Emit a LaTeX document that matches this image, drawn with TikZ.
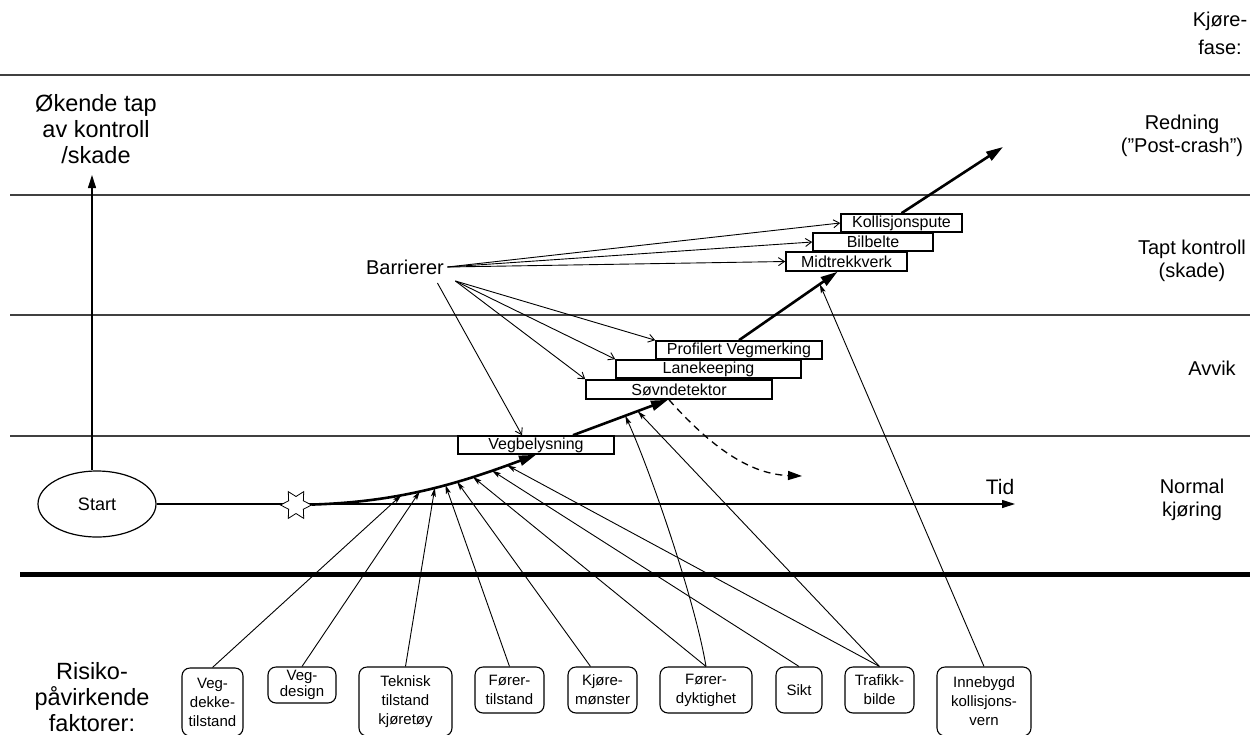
\documentclass[tikz,border=0pt]{standalone}
\usepackage{fontspec}
\setmainfont{Liberation Sans}
\usetikzlibrary{arrows.meta,shapes.geometric}

\begin{document}
\begin{tikzpicture}[x=1pt,y=-1pt,>=Stealth,
 barrier/.style={draw,fill=white,line width=1.6pt,inner sep=0pt,font=\fontsize{16}{18}\selectfont},
 factor/.style={draw,fill=white,rounded corners=8pt,line width=1.1pt,align=center,inner sep=0pt,
 font=\fontsize{15}{19}\selectfont},
 phase/.style={align=center,font=\fontsize{20}{22.5}\selectfont},
 lane/.style={line width=1.1pt,black!75},
 flow/.style={line width=2.6pt,-{Triangle[length=17pt,width=10pt]}},
 miss/.style={line width=1.3pt,dash pattern=on 7pt off 5pt,-{Triangle[length=14pt,width=9pt]}},
 push/.style={line width=.9pt,-{Stealth[length=9pt,width=5pt,inset=2pt]}},
 hold/.style={line width=.9pt,-{Straight Barb[length=6pt,width=8pt]}},
 axis/.style={line width=1.1pt,-{Triangle[length=13pt,width=8pt]}}]
\useasboundingbox (0,0) rectangle (1250,734);
% phase bands
\draw[lane] (0,75) -- (1250,75);
\foreach \y in {195,315,436}
  \draw[lane] (10,\y) -- (1250,\y);
\draw[line width=5pt] (20,574) -- (1250,574);
\node[phase,font=\fontsize{20}{28}\selectfont] (fase) at (1220,33) {Kjøre-\\fase:};
\node[phase] (redn) at (1182,136) {Redning\\(”Post-crash”)};
\node[phase] (tapt) at (1192,261) {Tapt kontroll\\(skade)};
\node[phase] (avvik) at (1212,368) {Avvik};
\node[phase] (norm) at (1192,500) {Normal\\kjøring};
% axes
\node[draw,ellipse,line width=1.2pt,minimum width=118pt,minimum height=66pt,
 font=\fontsize{18}{20}\selectfont] (start) at (97,504) {Start};
\coordinate (top) at (92,175);
\coordinate (tend) at (1015,504);
\draw[axis] ([xshift=-5pt]start.north) -- (top);
\draw[axis] (start.east) -- (tend);
\node[align=center,font=\fontsize{23.5}{26}\selectfont] (loss) at (96,129) {Økende tap\\av kontroll\\/skade};
\node[font=\fontsize{21}{22}\selectfont] (tid) at (1000,487) {Tid};
% barriers
\node[barrier,minimum width=156pt,minimum height=18pt] (vegb) at (536,445) {Vegbelysning};
\node[barrier,minimum width=186pt,minimum height=19pt] (sovn) at (679,389.5) {Søvndetektor};
\node[barrier,minimum width=185pt,minimum height=18pt] (lanek) at (708.5,369) {Lanekeeping};
\node[barrier,minimum width=166pt,minimum height=18pt] (prof) at (739,350) {Profilert Vegmerking};
\node[barrier,minimum width=121pt,minimum height=19pt] (midt) at (846.5,261.5) {Midtrekkverk};
\node[barrier,minimum width=120pt,minimum height=18pt] (bilb) at (873,242) {Bilbelte};
\node[barrier,minimum width=121pt,minimum height=18pt] (koll) at (901.5,223) {Kollisjonspute};
\node[font=\fontsize{20}{22}\selectfont] (barr) at (405,267) {Barrierer};
% course of events
\node[draw,fill=white,star,star points=6,star point ratio=.55,minimum size=17pt,inner sep=0pt,
 line width=.8pt] (star) at (296,505) {};
\coordinate (rescue) at (1003,147);
\coordinate (away) at (802,476);
\draw[flow] (star) .. controls (400,502) and (460,483) .. (vegb.south)
  coordinate[pos=.375] (f1) coordinate[pos=.46] (f2) coordinate[pos=.53] (f3)
  coordinate[pos=.58] (f4) coordinate[pos=.635] (f5) coordinate[pos=.71] (f6)
  coordinate[pos=.8] (f7) coordinate[pos=.87] (f8);
\draw[flow] ([xshift=37pt]vegb.north) -- ([xshift=-11pt]sovn.south)
  coordinate[pos=.55] (g1) coordinate[pos=.68] (g2);
\draw[flow] (prof.north) -- ([xshift=-9pt]midt.south) coordinate[pos=.82] (g3);
\draw[flow] (koll.north) -- (rescue);
\draw[miss] ([xshift=-10pt]sovn.south) .. controls (705,440) and (745,474) .. (away);
\foreach \b in {koll,bilb,midt}
  \draw[hold] (barr.east) -- (\b.west);
\foreach \b in {prof,lanek,sovn}
  \draw[hold] ([shift={(8,14)}]barr.east) -- (\b.north west);
\draw[hold] ([shift={(-10,16)}]barr.east) -- ([xshift=-14pt]vegb.north);
% risk factors
\node[align=center,font=\fontsize{23.5}{26}\selectfont] (risk) at (92,697) {Risiko-\\påvirkende\\faktorer:};
\node[factor,minimum width=61pt,minimum height=68pt] (dekke) at (212.5,702) {Veg-\\dekke-\\tilstand};
\node[factor,minimum width=68pt,minimum height=36pt,font=\fontsize{15}{16}\selectfont] (design) at (302,685) {Veg-\\design};
\node[factor,minimum width=93pt,minimum height=69pt] (tekn) at (405.5,701.5) {Teknisk\\tilstand\\kjøretøy};
\node[factor,minimum width=69pt,minimum height=46pt] (ftil) at (509.5,690) {Fører-\\tilstand};
\node[factor,minimum width=69pt,minimum height=46pt] (kjore) at (602.5,690) {Kjøre-\\mønster};
\node[factor,minimum width=92pt,minimum height=46pt] (dykt) at (706,690) {Fører-\\dyktighet};
\node[factor,minimum width=46pt,minimum height=46pt] (sikt) at (799,690) {Sikt};
\node[factor,minimum width=69pt,minimum height=46pt] (traf) at (879.5,690) {Trafikk-\\bilde};
\node[factor,minimum width=94pt,minimum height=69pt] (inne) at (984,701.5) {Innebygd\\kollisjons-\\vern};
\foreach \a/\b in {dekke/f1,design/f2,tekn/f3,ftil/f4,dykt/f6,sikt/f7,traf/f8,traf/g2,inne/g3}
  \draw[push] (\a.north) -- (\b);
\draw[push] ([xshift=-12pt]kjore.north) -- (f5);
\draw[push] (dykt.north) .. controls (695,600) and (650,470) .. (g1);
\end{tikzpicture}
\end{document}
